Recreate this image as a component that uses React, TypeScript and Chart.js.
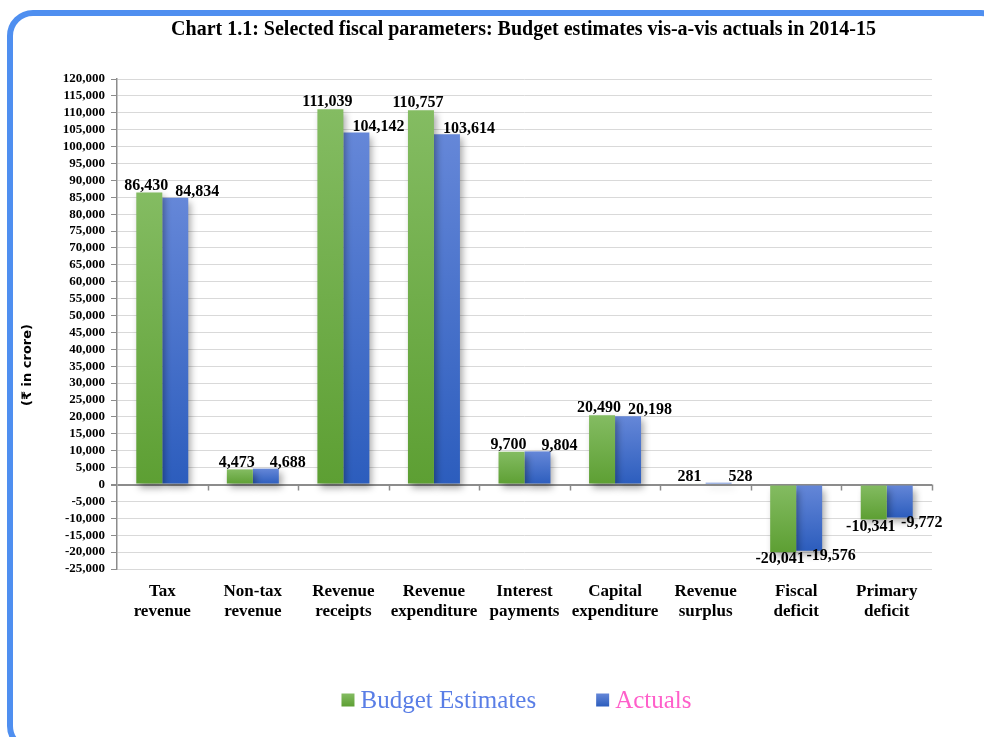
import React, { useEffect, useRef } from "react";
import { Chart, registerables } from "chart.js";

Chart.register(...registerables);

const chartTitle = "Chart 1.1: Selected fiscal parameters: Budget estimates vis-a-vis actuals in 2014-15";
const yAxisTitle = "(₹ in crore)";
const categories: string[][] = [
  ["Tax", "revenue"],
  ["Non-tax", "revenue"],
  ["Revenue", "receipts"],
  ["Revenue", "expenditure"],
  ["Interest", "payments"],
  ["Capital", "expenditure"],
  ["Revenue", "surplus"],
  ["Fiscal", "deficit"],
  ["Primary", "deficit"],
];
const seriesNames = ["Budget Estimates", "Actuals"];
const budgetEstimates = [86430, 4473, 111039, 110757, 9700, 20490, 281, -20041, -10341];
const actuals = [84834, 4688, 104142, 103614, 9804, 20198, 528, -19576, -9772];
const yMin = -25000;
const yMax = 120000;
const yStep = 5000;

const SERIF = "'Liberation Serif', 'Times New Roman', serif";
const greenStops = ["#84bc62", "#5d9f33"];
const blueStops = ["#6587d8", "#2c5dbd"];
const legendTextColors = ["#5a7ee6", "#ff5fca"];

function gradientFill(stops: string[]) {
  return (c: any) => {
    const chart = c.chart;
    const y = chart.scales && chart.scales.y;
    if (!chart.chartArea || !y || c.raw === undefined) return stops[1];
    const p0 = y.getPixelForValue(0);
    const p1 = y.getPixelForValue(c.raw);
    const top = Math.min(p0, p1);
    const bot = Math.max(p0, p1) + 0.01;
    const g = chart.ctx.createLinearGradient(0, top, 0, bot);
    g.addColorStop(0, stops[0]);
    g.addColorStop(1, stops[1]);
    return g;
  };
}

const fmt = (v: number) => v.toLocaleString("en-US");

const decorPlugin = {
  id: "decor",
  beforeDatasetsDraw(chart: any) {
    const { ctx, chartArea, scales } = chart;
    const y0 = scales.y.getPixelForValue(0);
    const n = categories.length;
    const w = (chartArea.right - chartArea.left) / n;
    ctx.save();
    ctx.strokeStyle = "#8c8c8c";
    ctx.lineWidth = 1.5;
    for (let i = 1; i <= n; i++) {
      const x = Math.round(chartArea.left + i * w) + 0.5;
      ctx.beginPath();
      ctx.moveTo(x, y0);
      ctx.lineTo(x, y0 + 6);
      ctx.stroke();
    }
    ctx.restore();
    ctx.save();
    ctx.shadowColor = "rgba(0,0,0,0.35)";
    ctx.shadowBlur = 7;
    ctx.shadowOffsetX = 3;
    ctx.shadowOffsetY = 4;
  },
  afterDatasetsDraw(chart: any) {
    const { ctx } = chart;
    ctx.restore();
    // data labels
    ctx.save();
    ctx.font = `bold 16px ${SERIF}`;
    ctx.fillStyle = "#000";
    ctx.textAlign = "center";
    ctx.textBaseline = "middle";
    chart.data.datasets.forEach((ds: any, di: number) => {
      const meta = chart.getDatasetMeta(di);
      meta.data.forEach((bar: any, i: number) => {
        const v = ds.data[i];
        const neg = v < 0;
        const xOff = di === 0 ? -3 : 22;
        const top = bar.y;
        const yPos = neg ? top + (di === 0 ? 7 : 5) : top - (di === 0 ? 7 : 6);
        ctx.fillText(fmt(v), bar.x + xOff, yPos);
      });
    });
    ctx.restore();
  },
  afterDraw(chart: any) {
    const { ctx, chartArea } = chart;
    ctx.save();
    // title
    ctx.font = `bold 20px ${SERIF}`;
    ctx.fillStyle = "#000";
    ctx.textAlign = "center";
    ctx.textBaseline = "middle";
    ctx.fillText(chartTitle, (chartArea.left + chartArea.right) / 2 - 1, 30);
    // y axis title
    ctx.save();
    ctx.translate(28, 365);
    ctx.rotate(-Math.PI / 2);
    ctx.font = "bold 13px 'DejaVu Sans', 'Noto Sans', sans-serif";
    ctx.fillText(yAxisTitle, 0, 0);
    ctx.restore();
    // legend
    ctx.font = `25px ${SERIF}`;
    ctx.textAlign = "left";
    const box = 13;
    const gapBox = 6;
    const gapItems = 60;
    const widths = seriesNames.map((s) => box + gapBox + ctx.measureText(s).width);
    const total = widths.reduce((a, b) => a + b, 0) + gapItems * (seriesNames.length - 1);
    let x = 516.5 - total / 2;
    const ly = 700;
    const stopsArr = [greenStops, blueStops];
    seriesNames.forEach((s, i) => {
      const g = ctx.createLinearGradient(0, ly - box / 2, 0, ly + box / 2);
      g.addColorStop(0, stopsArr[i][0]);
      g.addColorStop(1, stopsArr[i][1]);
      ctx.fillStyle = g;
      ctx.fillRect(x, ly - box / 2, box, box);
      ctx.fillStyle = legendTextColors[i];
      ctx.fillText(s, x + box + gapBox, ly + 1);
      x += widths[i] + gapItems;
    });
    ctx.restore();
  },
};

export default function App() {
  const ref = useRef<HTMLCanvasElement | null>(null);
  useEffect(() => {
    if (!ref.current) return;
    const chart = new Chart(ref.current, {
      type: "bar",
      data: {
        labels: categories,
        datasets: [
          {
            label: seriesNames[0],
            data: budgetEstimates,
            backgroundColor: gradientFill(greenStops) as any,
            borderWidth: 0,
          },
          {
            label: seriesNames[1],
            data: actuals,
            backgroundColor: gradientFill(blueStops) as any,
            borderWidth: 0,
          },
        ],
      },
      options: {
        responsive: false,
        animation: false,
        events: [],
        layout: { padding: { left: 0, right: 52, top: 79, bottom: 0 } },
        datasets: { bar: { categoryPercentage: 0.574, barPercentage: 1 } },
        plugins: {
          legend: { display: false },
          title: { display: false },
          tooltip: { enabled: false },
        },
        scales: {
          x: {
            grid: { display: false },
            border: { display: false },
            ticks: {
              color: "#000",
              font: { family: SERIF, size: 17, weight: "bold", lineHeight: "20px" } as any,
              padding: 5,
              maxRotation: 0,
              autoSkip: false,
            },
            afterFit: (s: any) => {
              s.height = 168;
            },
          },
          y: {
            min: yMin,
            max: yMax,
            ticks: {
              stepSize: yStep,
              autoSkip: false,
              color: "#000",
              font: { family: SERIF, size: 13, weight: "bold" },
              padding: 6,
              callback: (v: any) => fmt(Number(v)),
            },
            grid: {
              color: (c: any) => (c.tick && c.tick.value === 0 ? "#8c8c8c" : "#d9d9d9"),
              lineWidth: (c: any) => (c.tick && c.tick.value === 0 ? 2 : 1),
              tickColor: "#8c8c8c",
              tickLength: 6,
              drawTicks: true,
            },
            border: { color: "#8c8c8c", width: 1.5 },
            afterFit: (s: any) => {
              s.width = 117;
            },
          },
        },
      },
      plugins: [decorPlugin],
    });
    return () => chart.destroy();
  }, []);
  return (
    <div
      style={{
        position: "fixed",
        left: 0,
        top: 0,
        width: 984,
        height: 737,
        overflow: "hidden",
        background: "#fff",
      }}
    >
      <div
        style={{
          position: "absolute",
          left: 7,
          top: 10,
          width: 1000,
          height: 742,
          border: "6px solid #4f8ff0",
          borderRadius: 26,
          boxSizing: "border-box",
        }}
      />
      <canvas
        ref={ref}
        width={984}
        height={737}
        style={{ position: "absolute", left: 0, top: 0, width: 984, height: 737 }}
      />
    </div>
  );
}
